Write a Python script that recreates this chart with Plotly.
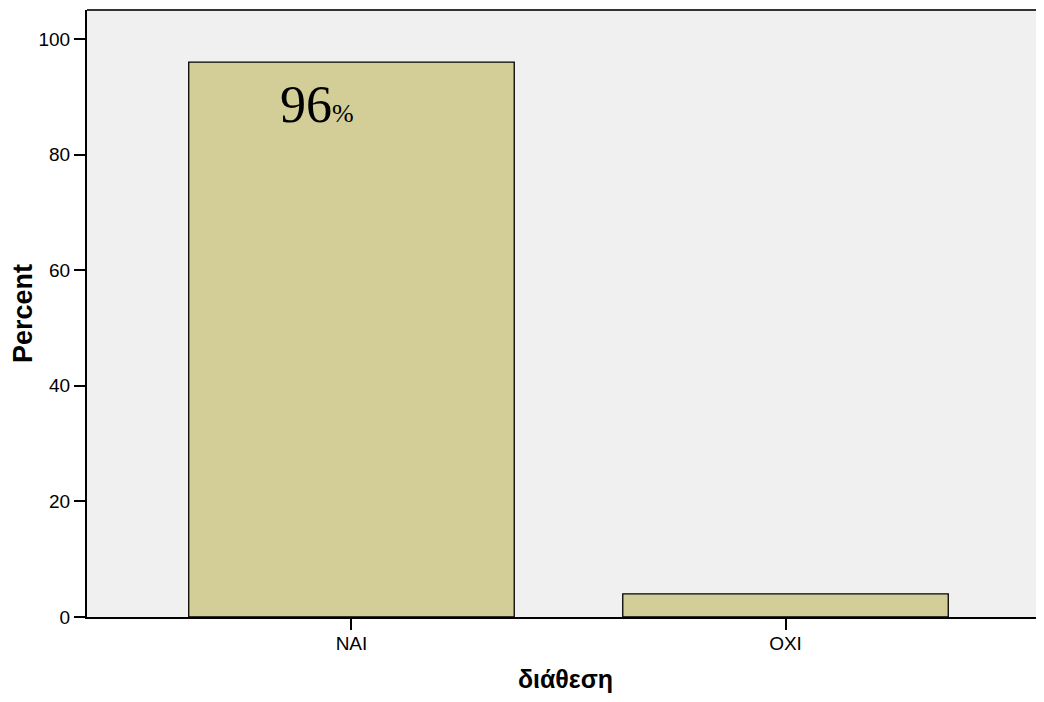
import plotly.graph_objects as go

categories = ["NAI", "OXI"]
percents = [96.0, 4.0]
y_ticks = [0, 20, 40, 60, 80, 100]
label_text = "96"

fig = go.Figure()
fig.add_trace(go.Bar(
    x=categories, y=percents, width=0.75,
    marker=dict(color="#d3ce98", line=dict(color="#000000", width=1.3)),
    hoverinfo="skip",
))

fig.add_annotation(
    x=0, y=percents[0] - 7.3, xref="x", yref="y", xshift=-34,
    text=label_text + "<span style='font-size:26px'>%</span>",
    showarrow=False, xanchor="center", yanchor="middle",
    font=dict(family="Liberation Serif, Times New Roman, serif", size=52, color="#000000"),
)

# top border line of the plot frame
fig.add_shape(type="line", xref="paper", yref="paper", x0=0, x1=1, y0=1, y1=1,
              line=dict(color="#333333", width=2))

fig.update_layout(
    width=1036, height=686,
    margin=dict(l=79, r=0, t=2, b=77),
    paper_bgcolor="#ffffff", plot_bgcolor="#f0f0f0",
    showlegend=False,
    font=dict(family="Liberation Sans, Arial, sans-serif", color="#000000"),
    xaxis=dict(
        range=[-0.6094, 1.5956], showline=True, linecolor="#000000", linewidth=2,
        ticks="outside", ticklen=11, tickwidth=1.5, tickcolor="#000000",
        tickfont=dict(size=19), showgrid=False, zeroline=False,
        ticklabelstandoff=-3,
        title=dict(text="<b>διάθεση</b>", font=dict(size=25), standoff=18),
    ),
    yaxis=dict(
        range=[0, 105], tickvals=y_ticks, showline=True, linecolor="#000000", linewidth=2,
        ticks="outside", ticklen=11, tickwidth=1.5, tickcolor="#000000",
        tickfont=dict(size=19), showgrid=False, zeroline=False,
        title=dict(text="<b>Percent</b>", font=dict(size=27), standoff=10),
    ),
)

fig.write_html("out.html")
